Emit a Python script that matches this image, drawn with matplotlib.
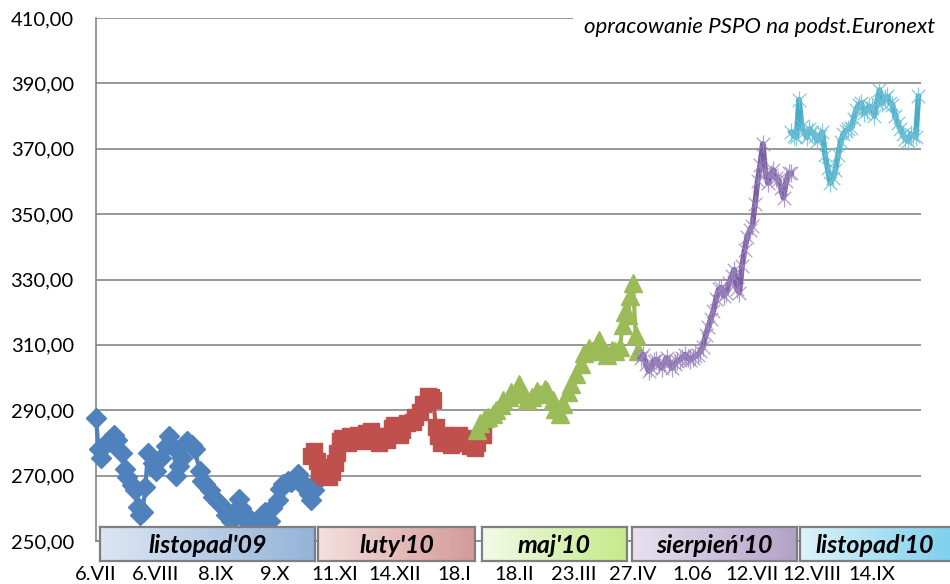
import numpy as np
import matplotlib
matplotlib.use("Agg")
import matplotlib.pyplot as plt
from matplotlib.path import Path
from matplotlib.colors import LinearSegmentedColormap

plt.rcParams['font.family'] = ['Lato', 'DejaVu Sans']

# ---------------- data ----------------
tick_pos = [0, 23, 46, 69, 92, 115, 138, 161, 184, 207, 230, 253, 276, 299]
tick_labels = ['6.VII', '6.VIII', '8.IX', '9.X', '11.XI', '14.XII', '18.I',
               '18.II', '23.III', '27.IV', '1.06', '12.VII', '12.VIII', '14.IX']

series_names = ["listopad'09", "luty'10", "maj'10", "sierpień'10", "listopad'10"]

blue_x = [0, 1, 2, 3, 5, 6, 7, 8, 10, 11, 12, 14, 15, 16, 17, 18, 19, 20, 22, 23,
          25, 27, 28, 30, 31, 32, 33, 35, 37, 38, 40, 41, 42, 44, 45, 47, 49, 50,
          52, 53, 55, 56, 57, 58, 59, 60, 62, 63, 64, 65, 67, 68, 70, 71, 72, 74,
          75, 77, 78, 79, 80, 82, 83, 84, 85]
blue_y = [287.5, 278, 275.5, 279, 281, 280, 282.5, 281, 277, 272, 269.5, 267, 265.5,
          260.5, 258, 259, 266.5, 277, 274, 271.5, 275.5, 279, 282, 278.5, 270, 273,
          275.5, 280.5, 279.5, 278, 271.5, 268.5, 267.5, 265.5, 263.5, 262, 260.5,
          258, 256, 259, 263, 260, 258.5, 256, 254, 253, 254.5, 256, 258, 259, 256,
          260, 262.5, 266, 267.5, 268.5, 268, 269.5, 270.5, 268.5, 266.5, 264.5,
          262.5, 265.5, 268.5]

red_x = [83, 84, 85, 86, 87, 88, 90, 91, 92, 93, 94, 95, 97, 98, 100, 101, 103, 104,
         106, 108, 109, 111, 112, 114, 115, 117, 118, 120, 122, 123, 125, 126, 128,
         129, 130, 131, 132, 133, 135, 137, 138, 140, 141, 143, 144, 146, 147, 149]
red_y = [276, 277.5, 274.5, 271, 272.5, 270, 269.5, 271, 274, 277, 280.5, 281.5, 280,
         282, 281, 282.5, 280.5, 283, 283.5, 282, 280, 282, 281, 284.5, 285.5, 282.5,
         284, 286, 286.5, 288, 289.5, 292, 294.5, 294, 293, 285, 282, 280, 282.5,
         279.5, 281.5, 282.5, 280, 281.5, 279, 278.5, 280, 282.5]

green_x = [147, 148, 150, 151, 153, 154, 156, 157, 159, 160, 162, 163, 165, 166, 168,
           170, 171, 173, 174, 176, 177, 179, 180, 182, 183, 185, 187, 188, 190, 191,
           193, 194, 196, 197, 199, 200, 202, 203, 204, 205, 206, 207, 208, 209]
green_y = [284, 286, 287.5, 288, 289, 290, 291.5, 293, 294, 295.5, 296, 298, 295, 293,
           294, 296, 295, 296.5, 296, 293, 290.5, 289, 292, 295.5, 298, 301, 304,
           307.5, 309, 308, 310, 311.5, 308.5, 307, 308.5, 308, 309.5, 316, 320, 319,
           325, 329, 313, 308]

purple_x = list(range(210, 269))
purple_y = [306, 307, 304, 302, 303, 305, 305.5, 304, 303, 304.5, 306, 304.5, 303,
            304, 305, 305.5, 306, 307, 306, 305.5, 306, 306.5, 307, 308, 309.5, 313,
            315.5, 318, 320.5, 324, 327, 327.5, 325, 326, 329, 331, 333, 327, 326,
            334, 339, 343, 345, 346.5, 353, 360, 365, 371.5, 363, 359.5, 362, 363.5,
            361, 360.5, 358, 355, 360, 362.5, 362.5]

cyan_x = list(range(268, 318))
cyan_y = [375, 374, 373.5, 385, 377, 375, 373.5, 376, 375, 374, 372.5, 374, 375, 368,
          364, 359.5, 361, 363.5, 368, 372, 374.5, 375.5, 376, 376.5, 379, 382, 383.5,
          384, 381, 382, 383, 382.5, 380, 384, 388, 384, 385.5, 386, 384, 383.5, 380,
          378, 376, 374.5, 373, 372.5, 374.5, 374, 373.5, 386]

# ---------------- figure ----------------
W, H = 950, 584
fig = plt.figure(figsize=(W / 100, H / 100), dpi=100)
ax = fig.add_axes([96 / W, 1 - 541 / H, (921 - 96) / W, (541 - 18) / H])

grid_col = '#868686'
ax.set_xlim(0, 318)
ax.set_ylim(250, 410)
ax.set_yticks(np.arange(250, 411, 20))
ax.set_yticklabels([f"{v:.2f}".replace('.', ',') for v in np.arange(250, 411, 20)])
ax.set_xticks(tick_pos)
ax.set_xticklabels(tick_labels)
ax.yaxis.grid(True, color=grid_col, lw=1.2)
ax.set_axisbelow(True)
for s in ['top', 'right']:
    ax.spines[s].set_visible(False)
for s in ['left', 'bottom']:
    ax.spines[s].set_color(grid_col)
    ax.spines[s].set_linewidth(1.2)
ax.tick_params(axis='y', length=0, pad=16, labelsize=14.5, colors='#000000')
ax.tick_params(axis='x', length=0, pad=18, labelsize=14.5, colors='#000000')

# star (asterisk) marker
star = Path([(0, -1), (0, 1), (-0.75, -0.75), (0.75, 0.75), (-0.75, 0.75), (0.75, -0.75)],
            [Path.MOVETO, Path.LINETO, Path.MOVETO, Path.LINETO, Path.MOVETO, Path.LINETO])

ax.plot(blue_x, blue_y, color='#4F81BD', lw=3, marker='D', ms=10, mec='#4F81BD',
        mfc='#4F81BD', clip_on=False, zorder=3)
ax.plot(red_x, red_y, color='#C0504D', lw=3, marker='s', ms=11.5, mec='#C0504D',
        mfc='#C0504D', clip_on=False, zorder=4)
ax.plot(green_x, green_y, color='#9BBB59', lw=3, marker='^', ms=12.5, mec='#9BBB59',
        mfc='#9BBB59', clip_on=False, zorder=5)
ax.plot(purple_x, purple_y, color='#7D5FA3', lw=4, zorder=6, clip_on=False)
ax.plot(purple_x, purple_y, ls='none', marker=star, ms=13, mew=0.9, mec='#9C86BE',
        alpha=0.8, zorder=6, clip_on=False)
ax.plot(cyan_x, cyan_y, color='#4BACC6', lw=4, zorder=7, clip_on=False)
ax.plot(cyan_x, cyan_y, ls='none', marker=star, ms=13, mew=0.9, mec='#6EC0D6',
        alpha=0.85, zorder=7, clip_on=False)

# source note
fig.text(935 / W, 1 - 27 / H, 'opracowanie PSPO na podst.Euronext', ha='right',
         va='center', fontsize=16, style='italic', color='#000000',
         bbox=dict(boxstyle='square,pad=0.5', fc='white', ec='none'), zorder=10)

# legend boxes with gradient
box_specs = [
    (100, 315, '#dce6f4', '#95b3d7'),
    (318, 475, '#f4e0df', '#d39a98'),
    (482, 627, '#f3fae8', '#c4ea8a'),
    (632, 797, '#e8e2ef', '#b2a1c8'),
    (800, 955, '#dcf3fa', '#7ccfec'),
]
grad = np.linspace(0, 1, 256).reshape(1, -1)
for name, (x0, x1, c0, c1) in zip(series_names, box_specs):
    bax = fig.add_axes([x0 / W, 1 - 561 / H, (x1 - x0) / W, 34 / H], zorder=20)
    cmap = LinearSegmentedColormap.from_list('g', [c0, c1])
    bax.imshow(grad, aspect='auto', cmap=cmap, extent=(0, 1, 0, 1))
    bax.set_xlim(0, 1)
    bax.set_ylim(0, 1)
    bax.set_xticks([])
    bax.set_yticks([])
    for s in bax.spines.values():
        s.set_color('#7f7f7f')
        s.set_linewidth(1.6)
    cx = 0.5 if x1 <= W else (0.5 * (x0 + W) - x0) / (x1 - x0)
    bax.text(cx, 0.47, name, ha='center', va='center', fontsize=18,
             fontweight='bold', style='italic', color='#000000')

fig.savefig('out.png', dpi=100)
